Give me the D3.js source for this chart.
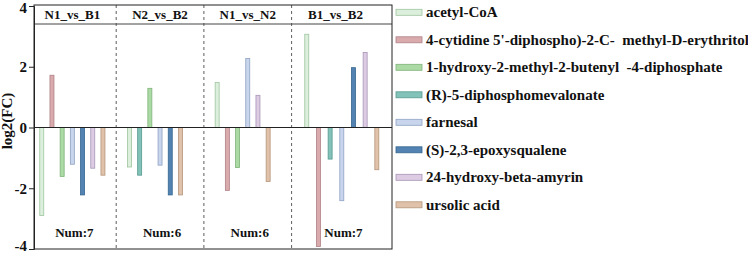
<!DOCTYPE html>
<html>
<head>
<meta charset="utf-8">
<script src="https://cdn.jsdelivr.net/npm/d3@7"></script>
</head>
<body style="margin:0;background:#fff">
<div id="chart"></div>
<script>
// compounds (legend order)
const compounds = [
    "acetyl-CoA",
    "4-cytidine 5'-diphospho)-2-C-  methyl-D-erythritol",
    "1-hydroxy-2-methyl-2-butenyl  -4-diphosphate",
    "(R)-5-diphosphomevalonate",
    "farnesal",
    "(S)-2,3-epoxysqualene",
    "24-hydroxy-beta-amyrin",
    "ursolic acid"
];
const fills   = ["#dcefdc", "#d9abad", "#abdaa5", "#82c2b8", "#c8d5ec", "#5283b3", "#dccbe3", "#e0c2aa"];
const strokes = ["#9fc49f", "#b08086", "#7fb27a", "#579a91", "#8fa3c4", "#35668f", "#a795b6", "#b5957a"];

const groups = ["N1_vs_B1", "N2_vs_B2", "N1_vs_N2", "B1_vs_B2"];
const groupNum = [7, 6, 6, 7];

// which compound (index) is drawn in each panel, in drawing order
const barCompounds = [
    [0, 1, 2, 4, 5, 6, 7],
    [0, 3, 2, 4, 5, 7],
    [0, 1, 2, 4, 6, 7],
    [0, 1, 3, 4, 5, 6, 7]
];
// log2(FC) per bar
const barValues = [
    [-2.90, 1.72, -1.61, -1.21, -2.22, -1.34, -1.57],
    [-1.30, -1.57, 1.29, -1.24, -2.22, -2.22],
    [1.48, -2.07, -1.32, 2.27, 1.06, -1.78],
    [3.07, -3.92, -1.04, -2.41, 1.97, 2.47, -1.39]
];
const yTicks = [-4, -2, 0, 2, 4];

const W = 748, H = 253;
const frame = { left: 34, right: 392, top: 5, bottom: 249, strip: 24 };
const serif = "'Liberation Serif'";

const svg = d3.select("#chart").append("svg")
    .attr("width", W).attr("height", H);

// bold serif text helper
function label(sel, size) {
    return sel.style("font-family", serif)
        .style("font-weight", "bold")
        .style("font-size", size + "px")
        .attr("fill", "#111");
}

const y = d3.scaleLinear().domain([-4, 4]).range([frame.bottom, 6]);
const panel = d3.scaleBand().domain(groups).range([28.5, 379.3]);
const slots = d3.max(barCompounds, d => d.length);

// bars
groups.forEach((g, gi) => {
    const rows = barCompounds[gi].map((c, i) => ({ c: c, v: barValues[gi][i], k: i }));
    const x0 = panel(g);
    const x1 = gi == groups.length - 1 ? frame.right : x0 + panel.bandwidth();
    const x = d3.scalePoint()
        .domain(d3.range(slots))
        .range([x0, x1])
        .padding(1.3);

    svg.append("g").selectAll("rect")
        .data(rows)
        .join("rect")
        .attr("x", d => x(d.k) - 2)
        .attr("width", 4)
        .attr("y", d => y(Math.max(0, d.v)))
        .attr("height", d => Math.abs(y(d.v) - y(0)))
        .attr("fill", d => fills[d.c])
        .attr("stroke", d => strokes[d.c])
        .attr("stroke-width", 0.8);

    label(svg.append("text"), 13)
        .attr("x", x0 + panel.bandwidth() / 2)
        .attr("y", 19)
        .attr("text-anchor", "middle")
        .text(g);

    label(svg.append("text"), 13)
        .attr("x", x0 + panel.bandwidth() / 2 + (gi == 3 ? 8 : 2))
        .attr("y", 237)
        .attr("text-anchor", "middle")
        .text("Num:" + groupNum[gi]);
});

// dashed panel separators
svg.append("g").selectAll("line")
    .data(groups.slice(1))
    .join("line")
    .attr("x1", d => panel(d)).attr("x2", d => panel(d))
    .attr("y1", frame.top).attr("y2", frame.bottom)
    .attr("stroke", "#333")
    .attr("stroke-width", 0.8)
    .attr("stroke-dasharray", "3,3");

// zero line, strip line, frame
svg.append("line")
    .attr("x1", frame.left).attr("x2", frame.right)
    .attr("y1", y(0)).attr("y2", y(0))
    .attr("stroke", "#222").attr("stroke-width", 1);
svg.append("line")
    .attr("x1", frame.left).attr("x2", frame.right)
    .attr("y1", frame.strip).attr("y2", frame.strip)
    .attr("stroke", "#444").attr("stroke-width", 1);
svg.append("rect")
    .attr("x", frame.left).attr("y", frame.top)
    .attr("width", frame.right - frame.left)
    .attr("height", frame.bottom - frame.top)
    .attr("fill", "none")
    .attr("stroke", "#222").attr("stroke-width", 1);

// y axis
const yAxis = svg.append("g")
    .attr("transform", "translate(" + frame.left + ",0)")
    .call(d3.axisLeft(y).tickValues(yTicks).tickSize(5).tickPadding(2).tickFormat(d3.format("d")));
yAxis.select(".domain").attr("stroke", "#222");
yAxis.selectAll(".tick line").attr("stroke", "#222");
label(yAxis.selectAll(".tick text"), 15)
    .attr("dy", (d, i) => i == 0 ? "0.1em" : (i == yTicks.length - 1 ? "0.45em" : "0.32em"))
    .text(d => d < 0 ? "-" + Math.abs(d) : d);

label(svg.append("text"), 15)
    .attr("transform", "translate(12,121) rotate(-90)")
    .attr("text-anchor", "middle")
    .text("log2(FC)");

// legend
const legend = svg.append("g").selectAll("g")
    .data(compounds)
    .join("g")
    .attr("transform", (d, i) => "translate(396," + (12.3 + i * 27.5) + ")");

legend.append("rect")
    .attr("x", 0).attr("y", -3)
    .attr("width", 26).attr("height", 6)
    .attr("fill", (d, i) => fills[i])
    .attr("stroke", (d, i) => strokes[i])
    .attr("stroke-width", 0.8);

label(legend.append("text"), 15)
    .attr("x", 30)
    .attr("y", 5)
    .style("white-space", "pre")
    .text(d => d);
</script>
</body>
</html>
